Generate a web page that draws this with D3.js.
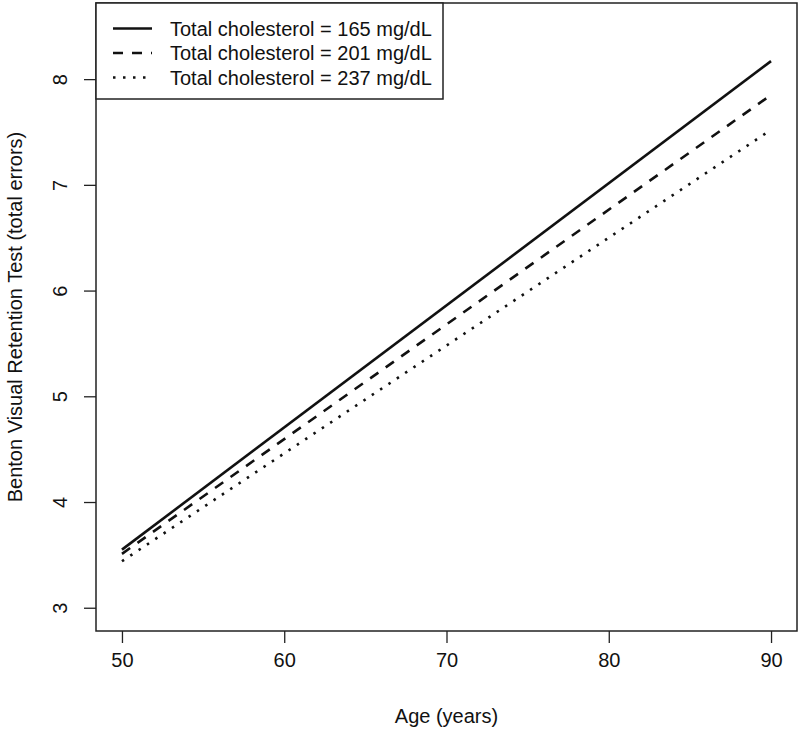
<!DOCTYPE html>
<html>
<head>
<meta charset="utf-8">
<title></title>
<script src="https://d3js.org/d3.v7.min.js"></script>
<style>
  body { margin: 0; background: #fff; }
  text { font-family: "Liberation Sans", Arial, sans-serif; font-size: 20px; fill: #111; }
</style>
</head>
<body>
<div class="main_div"></div>
<script>

// Data
var ages = [50, 90];
var chol165 = [3.55, 8.17];
var chol201 = [3.51, 7.85];
var chol237 = [3.44, 7.52];
var seriesNames = ["Total cholesterol = 165 mg/dL", "Total cholesterol = 201 mg/dL", "Total cholesterol = 237 mg/dL"];
var xTicks = [50, 60, 70, 80, 90];
var yTicks = [3, 4, 5, 6, 7, 8];

var width = 800, height = 731;
var box = {left: 96, right: 797, top: 3, bottom: 631};

var svg = d3.select(".main_div").append("svg")
  .attr("width", width)
  .attr("height", height);

// R style: 4% extension of xlim/ylim
var xScale = d3.scaleLinear().domain([48.4, 91.6]).range([box.left, box.right]);
var yScale = d3.scaleLinear().domain([2.78, 8.72]).range([box.bottom, box.top]);

var series = [
  {name: seriesNames[0], values: chol165, dash: null},
  {name: seriesNames[1], values: chol201, dash: "10,9"},
  {name: seriesNames[2], values: chol237, dash: "2.5,7.5"}
];

var line = d3.line()
  .x(function(d){ return xScale(d[0]); })
  .y(function(d){ return yScale(d[1]); });

svg.selectAll("path.series").data(series).enter().append("path")
  .attr("class", "series")
  .attr("d", function(s){ return line(ages.map(function(a, i){ return [a, s.values[i]]; })); })
  .attr("fill", "none")
  .attr("stroke", "#111")
  .attr("stroke-width", 2.6)
  .attr("stroke-dasharray", function(s){ return s.dash; });

// Axes
var xAxis = d3.axisBottom(xScale).tickValues(xTicks).tickFormat(d3.format("d")).tickSize(12).tickPadding(10);
var yAxis = d3.axisLeft(yScale).tickValues(yTicks).tickFormat(d3.format("d")).tickSize(12);

var xg = svg.append("g")
  .attr("transform", "translate(0," + box.bottom + ")")
  .call(xAxis);
xg.select(".domain").remove();
xg.selectAll("line").attr("stroke", "#222").attr("stroke-width", 1.3);
xg.selectAll("text").attr("font-size", 20).attr("font-family", "Liberation Sans, Arial, sans-serif").attr("fill", "#111")
  .attr("dy", "0.71em");

var yg = svg.append("g")
  .attr("transform", "translate(" + box.left + ",0)")
  .call(yAxis);
yg.select(".domain").remove();
yg.selectAll("line").attr("stroke", "#222").attr("stroke-width", 1.3);
// y labels rotated, baseline on the right side (R las=0)
yg.selectAll(".tick text")
  .attr("font-size", 20).attr("font-family", "Liberation Sans, Arial, sans-serif").attr("fill", "#111")
  .attr("x", null).attr("y", 0).attr("dy", null)
  .attr("text-anchor", "middle")
  .attr("transform", "translate(-29,0) rotate(-90)");

// Plot box
svg.append("rect")
  .attr("x", box.left).attr("y", box.top)
  .attr("width", box.right - box.left).attr("height", box.bottom - box.top)
  .attr("fill", "none").attr("stroke", "#222").attr("stroke-width", 1.5);

// Axis titles
svg.append("text")
  .attr("x", (xScale(50) + xScale(90)) / 2)
  .attr("y", 723)
  .attr("text-anchor", "middle")
  .text("Age (years)");

svg.append("text")
  .attr("transform", "translate(22," + ((box.top + box.bottom) / 2) + ") rotate(-90)")
  .attr("text-anchor", "middle")
  .text("Benton Visual Retention Test (total errors)");

// Legend
var legend = svg.append("g");
legend.append("rect")
  .attr("x", box.left).attr("y", box.top)
  .attr("width", 347).attr("height", 96)
  .attr("fill", "#fff").attr("stroke", "#222").attr("stroke-width", 1.5);

var rows = legend.selectAll("g.row").data(series).enter().append("g")
  .attr("class", "row")
  .attr("transform", function(d, i){ return "translate(0," + (28.5 + i * 24.5) + ")"; });

rows.append("line")
  .attr("x1", 113).attr("x2", 152)
  .attr("y1", 0).attr("y2", 0)
  .attr("stroke", "#111").attr("stroke-width", 2.6)
  .attr("stroke-dasharray", function(s){ return s.dash; });

rows.append("text")
  .attr("x", 170).attr("y", 7)
  .text(function(s){ return s.name; });

</script>
</body>
</html>
